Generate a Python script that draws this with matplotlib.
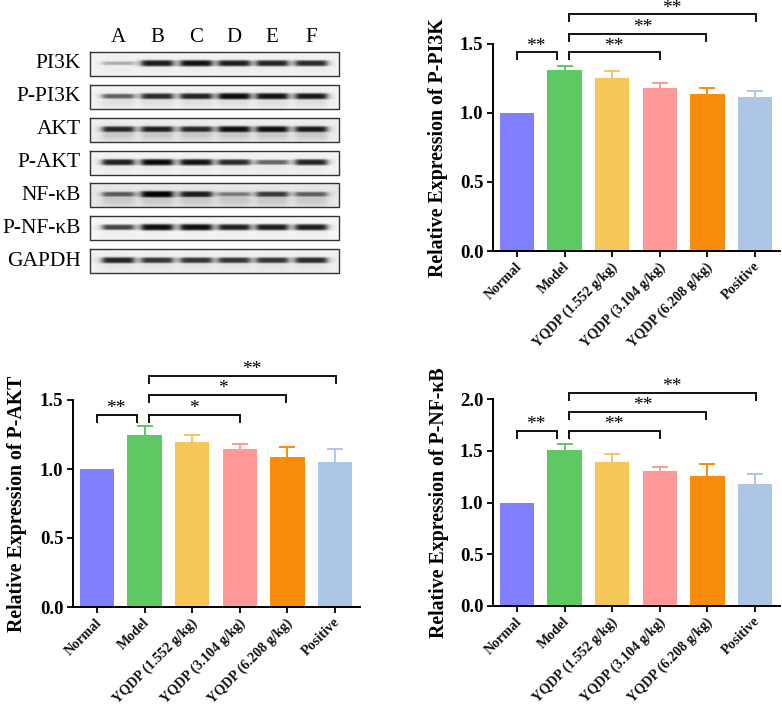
from matplotlib import pyplot as plt
from matplotlib.transforms import ScaledTranslation
import numpy as np

plt.rcParams['font.family'] = ['Liberation Serif', 'DejaVu Sans']

W, H = 782, 708

groups = ['Normal', 'Model', 'YQDP (1.552 g/kg)', 'YQDP (3.104 g/kg)', 'YQDP (6.208 g/kg)', 'Positive']
colors = ['#7F7FFF', '#5DC963', '#F5C758', '#FF9896', '#F98B0B', '#ADC6E8']

# bar heights and upper ends of the error bars
pi3k_vals = [1.0, 1.31, 1.25, 1.18, 1.136, 1.112]
pi3k_tops = [1.0, 1.339, 1.30, 1.216, 1.175, 1.16]
akt_vals = [1.0, 1.243, 1.195, 1.142, 1.088, 1.05]
akt_tops = [1.0, 1.31, 1.25, 1.18, 1.162, 1.148]
nfkb_vals = [1.0, 1.508, 1.395, 1.30, 1.254, 1.183]
nfkb_tops = [1.0, 1.57, 1.473, 1.344, 1.373, 1.273]

# brackets: x start, x end, height, stars, x of the stars
bracket_xs = [(0.0, 0.84), (1.09, 3.0), (1.09, 3.98), (1.09, 5.03)]
star_xs = [0.39, 2.04, 2.65, 3.25]
pi3k_levels = [1.435, 1.435, 1.572, 1.71]
akt_levels = [1.394, 1.394, 1.534, 1.671]
nfkb_levels = [1.688, 1.688, 1.871, 2.055]
pi3k_stars = ['**', '**', '**', '**']
akt_stars = ['**', '*', '*', '**']
nfkb_stars = ['**', '**', '**', '**']

# western blot: band strength per lane (0..1)
blot_labels = ['PI3K', 'P-PI3K', 'AKT', 'P-AKT', 'NF-κB', 'P-NF-κB', 'GAPDH']
lanes = ['A', 'B', 'C', 'D', 'E', 'F']
blot_bands = [
    [0.30, 0.92, 0.95, 0.90, 0.88, 0.85],
    [0.62, 0.85, 0.88, 0.98, 0.95, 0.92],
    [0.85, 0.88, 0.85, 0.95, 0.95, 0.90],
    [0.90, 0.98, 0.95, 0.85, 0.60, 0.88],
    [0.62, 1.00, 0.88, 0.48, 0.75, 0.60],
    [0.75, 0.98, 0.98, 0.90, 0.92, 0.92],
    [0.88, 0.80, 0.80, 0.80, 0.80, 0.85],
]
blot_backs = [0.95, 0.95, 0.93, 0.95, 0.91, 0.96, 0.94]
blot_smears = [0.02, 0.08, 0.15, 0.03, 0.13, 0.02, 0.05]


def draw_blot(fig):
    ax = fig.add_axes([0, 0, 1, 1])
    ax.patch.set_alpha(0)
    ax.axis('off')
    lane_px = [118, 157, 196, 234, 272, 311]
    left, right = 90, 339
    xs = np.arange(left, right, 0.5)
    for i, label in enumerate(blot_labels):
        top = 52 + i * 32.85
        ys = np.arange(0, 24, 0.5)
        img = np.full((len(ys), len(xs)), blot_backs[i])
        for cx, strength in zip(lane_px, blot_bands[i]):
            across = 1 / (1 + ((xs - cx) / 16) ** 8)
            down = np.exp(-((ys - 11) / (1.3 + 2.0 * strength)) ** 4)
            # smear below the band, kept under the band itself
            smear = np.exp(-((ys - 16) / 7) ** 2)
            dark = np.maximum(strength * 0.92 * down, blot_smears[i] * smear)
            img -= np.outer(dark, across)
        ax.imshow(np.clip(img, 0, 1), cmap='gray', vmin=0, vmax=1, aspect='auto',
                  extent=(left, right, top + 24, top), interpolation='bilinear')
        ax.plot([left, right, right, left, left], [top, top, top + 24, top + 24, top],
                color='#333333', lw=1.0)
        ax.text(81, top + 12, label, ha='right', va='center', fontsize=15.5)
    for name, cx in zip(lanes, lane_px):
        ax.text(cx, 38, name, ha='center', va='center', fontsize=15)
    ax.set_xlim(0, W)
    ax.set_ylim(H, 0)


def draw_bars(fig, box, label_pos, ymax, yticks, vals, tops, levels, stars, title):
    left, right, y_top, y_zero = box
    ax = fig.add_axes([left / W, 1 - y_zero / H, (right - left) / W, (y_zero - y_top) / H])
    ax.patch.set_alpha(0)
    x = np.arange(len(groups))
    ax.bar(x, vals, width=0.72, color=colors, zorder=2)
    for i in x:
        if tops[i] > vals[i]:
            ax.vlines(i, vals[i], tops[i], color=colors[i], lw=1.4, zorder=1)
            ax.plot(i, tops[i], marker='_', ms=12, mew=1.4, color=colors[i], zorder=1)
    ax.set_xlim(-0.504, 5.525)
    ax.set_ylim(0, ymax)
    ax.set_yticks(yticks)
    ax.set_yticklabels(['%.1f' % t for t in yticks], fontsize=13.5, fontweight='bold')
    ax.set_xticks(x)
    ax.set_xticklabels(groups, rotation=45, ha='right', rotation_mode='anchor',
                       fontsize=10.2, fontweight='bold', color='#111111')
    ax.tick_params(axis='both', width=1.3, length=4.5, pad=2.5)
    ax.tick_params(axis='x', pad=3)
    # the rotated labels sit a little left of their ticks
    shift = ScaledTranslation(-1.5 / 100, 1.5 / 100, fig.dpi_scale_trans)
    for tick in ax.get_xticklabels():
        tick.set_transform(tick.get_transform() + shift)
    for side in ['top', 'right']:
        ax.spines[side].set_visible(False)
    for side in ['left', 'bottom']:
        ax.spines[side].set_linewidth(1.4)
    ax.set_ylabel(title, fontsize=14.3, fontweight='bold', va='center')
    ax.yaxis.set_label_coords((label_pos[0] - left) / (right - left),
                              (y_zero - label_pos[1]) / (y_zero - y_top))

    drop = ymax * 7 / (y_zero - y_top)
    for (x0, x1), level, mark, sx in zip(bracket_xs, levels, stars, star_xs):
        ax.plot([x0, x0, x1, x1], [level - drop, level, level, level - drop], color='#111111',
                lw=1.4, clip_on=False, solid_joinstyle='miter')
        ax.annotate(mark, (sx, level), xytext=(0, -1.5), textcoords='offset points', ha='center',
                    va='bottom', fontsize=14, annotation_clip=False)
    return ax


fig = plt.figure(figsize=(W / 100, H / 100), dpi=100)
draw_blot(fig)
draw_bars(fig, (493, 780, 43.5, 251), (438, 148), 1.5, [0, 0.5, 1.0, 1.5], pi3k_vals, pi3k_tops,
          pi3k_levels, pi3k_stars, 'Relative Expression of P-PI3K')
draw_bars(fig, (73, 360, 400, 607), (17, 504), 1.5, [0, 0.5, 1.0, 1.5], akt_vals, akt_tops,
          akt_levels, akt_stars, 'Relative Expression of P-AKT')
draw_bars(fig, (493, 780, 399, 606), (439, 503), 2.0, [0, 0.5, 1.0, 1.5, 2.0], nfkb_vals, nfkb_tops,
          nfkb_levels, nfkb_stars, 'Relative Expression of P-NF-κB')
fig.savefig('out.png', dpi=100)
